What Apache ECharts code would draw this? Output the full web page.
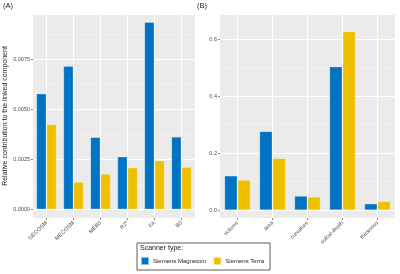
<!DOCTYPE html>
<html>
<head>
<meta charset="utf-8">
<script src="https://cdn.jsdelivr.net/npm/echarts@6/dist/echarts.min.js"></script>
<style>
  html, body { margin: 0; padding: 0; background: #ffffff; }
  #chart { width: 400px; height: 274px; }
</style>
</head>
<body>
<div id="chart"></div>
<script>
const catsA = ["GECOSM", "MECOSM", "MEB0", "R2*", "FA", "B0"];
const magnetomA = [0.00578, 0.00716, 0.00360, 0.00263, 0.00936, 0.00362];
const terraA = [0.00424, 0.00136, 0.00176, 0.00208, 0.00243, 0.00211];

const catsB = ["volume", "area", "curvature", "sulcal-depth", "thickness"];
const magnetomB = [0.120, 0.276, 0.049, 0.503, 0.022];
const terraB = [0.105, 0.181, 0.046, 0.627, 0.030];

const blue = "#0073C2";
const yellow = "#EFC000";
const panelBg = "#EBEBEB";
const tickColor = "#4D4D4D";
const font = "Liberation Sans";

const rangeA = [-0.000435, 0.00977];
const rangeB = [-0.028, 0.688];

function catAxis(idx, data) {
  return {
    type: "category",
    gridIndex: idx,
    data: data,
    axisLine: { show: false, onZero: false },
    axisTick: { show: true, alignWithLabel: true, length: 2, lineStyle: { color: "#333333", width: 0.6 } },
    splitLine: { show: false },
    axisLabel: { rotate: 45, fontSize: 5.5, color: tickColor, fontFamily: font, margin: 4, interval: 0 }
  };
}

function valAxis(idx, range, step, digits, extra) {
  return Object.assign({
    type: "value",
    gridIndex: idx,
    min: range[0],
    max: range[1],
    minInterval: step,
    maxInterval: step,
    axisLine: { show: false, onZero: false },
    axisTick: { show: true, length: 2, lineStyle: { color: "#333333", width: 0.6 } },
    splitLine: { show: true, lineStyle: { color: "#ffffff", width: 1 } },
    minorTick: { show: false, splitNumber: 2 },
    minorSplitLine: { show: true, lineStyle: { color: "#F7F7F7", width: 0.6 } },
    axisLabel: {
      fontSize: 5.5, color: tickColor, fontFamily: font, margin: 3,
      showMinLabel: false, showMaxLabel: false,
      formatter: function (v) { return v.toFixed(digits); }
    }
  }, extra || {});
}

function barSeries(name, color, xi, data) {
  return {
    name: name,
    type: "bar",
    xAxisIndex: xi,
    yAxisIndex: xi,
    data: data,
    barCategoryGap: "26%",
    barGap: "4%",
    z: 5,
    itemStyle: { color: color, borderColor: "rgba(255,255,255,0.55)", borderWidth: 0.5 }
  };
}

// vertical white grid lines at the category centres: one broken line series,
// a segment from the bottom to the top of the panel at each category
function centreLines(xi, cats, range) {
  const pts = [];
  cats.forEach(function (c, i) {
    pts.push([i, range[0]], [i, range[1]], [i, null]);
  });
  return {
    type: "line",
    xAxisIndex: xi,
    yAxisIndex: xi,
    data: pts,
    connectNulls: false,
    showSymbol: false,
    symbol: "none",
    silent: true,
    clip: false,
    z: 1,
    lineStyle: { color: "#ffffff", width: 1 },
    emphasis: { disabled: true },
    tooltip: { show: false }
  };
}

const chart = echarts.init(document.getElementById("chart"), null, { renderer: "canvas" });

chart.setOption({
  animation: false,
  backgroundColor: "#ffffff",
  textStyle: { fontFamily: font },
  grid: [
    { left: 33, right: 205, top: 14, bottom: 56, show: true, backgroundColor: panelBg, borderWidth: 0, z: 0 },
    { left: 220, right: 5, top: 14, bottom: 56, show: true, backgroundColor: panelBg, borderWidth: 0, z: 0 }
  ],
  xAxis: [catAxis(0, catsA), catAxis(1, catsB)],
  yAxis: [
    valAxis(0, rangeA, 0.0025, 4, {
      name: "Relative contribution to the linked component",
      nameLocation: "middle",
      nameGap: 24,
      nameTextStyle: { fontSize: 7, color: "#1a1a1a", fontFamily: font }
    }),
    valAxis(1, rangeB, 0.2, 1)
  ],
  legend: {
    left: 137,
    top: 243,
    width: 137,
    height: 25,
    orient: "horizontal",
    padding: [13, 6, 4, 3],
    itemGap: 6,
    itemWidth: 8,
    itemHeight: 8,
    icon: "rect",
    borderColor: "#333333",
    borderWidth: 0.8,
    borderRadius: 0,
    data: ["Siemens Magnetom", "Siemens Terra"],
    textStyle: { fontSize: 6, color: "#1a1a1a", fontFamily: font, padding: [0, 0, 0, -1] }
  },
  graphic: [
    { type: "text", left: 3, top: 2, style: { text: "(A)", fill: "#1a1a1a", font: "7.5px " + font } },
    { type: "text", left: 197, top: 2, style: { text: "(B)", fill: "#1a1a1a", font: "7.5px " + font } },
    { type: "text", left: 140, top: 245, style: { text: "Scanner type:", fill: "#1a1a1a", font: "7px " + font } }
  ],
  series: [
    centreLines(0, catsA, rangeA),
    centreLines(1, catsB, rangeB),
    barSeries("Siemens Magnetom", blue, 0, magnetomA),
    barSeries("Siemens Terra", yellow, 0, terraA),
    barSeries("Siemens Magnetom", blue, 1, magnetomB),
    barSeries("Siemens Terra", yellow, 1, terraB)
  ]
});
</script>
</body>
</html>
